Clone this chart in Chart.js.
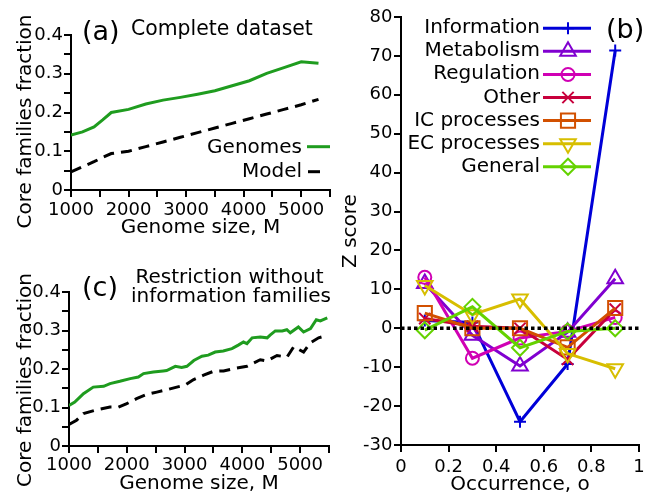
<!DOCTYPE html>
<html>
<head>
<meta charset="utf-8">
<script src="https://cdn.jsdelivr.net/npm/chart.js@4/dist/chart.umd.min.js"></script>
<style>
  html, body { margin: 0; padding: 0; background: #fff; width: 651px; height: 496px; overflow: hidden; }
  canvas { position: absolute; }
  #panelA { left: 0; top: 0; }
  #panelC { left: 0; top: 245px; }
  #panelB { left: 335px; top: 0; }
</style>
</head>
<body>
<canvas id="panelA" width="335" height="245"></canvas>
<canvas id="panelC" width="335" height="251"></canvas>
<canvas id="panelB" width="316" height="496"></canvas>
<script>
// ---- (a) complete dataset: core families fraction vs genome size ----
const sizesA   = [1000, 1200, 1400, 1550, 1700, 2000, 2300, 2600, 2900, 3200, 3500, 3800, 4100, 4400, 4700, 5000, 5300];
const genomesA = [0.142, 0.150, 0.163, 0.181, 0.200, 0.208, 0.222, 0.232, 0.239, 0.247, 0.256, 0.269, 0.282, 0.301, 0.316, 0.331, 0.327];
const modelA   = [0.047, 0.060, 0.073, 0.084, 0.094, 0.100, 0.112, 0.124, 0.136, 0.148, 0.160, 0.172, 0.184, 0.196, 0.208, 0.220, 0.234];

// ---- (c) restriction without information families ----
const sizesC   = [1000, 1100, 1250, 1420, 1600, 1710, 1880, 2060, 2200, 2290, 2460, 2630, 2690, 2840, 2950, 3040, 3160, 3300, 3410, 3530,
                  3670, 3820, 3930, 4020, 4080, 4170, 4310, 4430, 4480, 4570, 4690, 4770, 4830, 4970, 5060, 5180, 5280, 5350, 5470];
const genomesC = [0.105, 0.114, 0.136, 0.153, 0.155, 0.162, 0.168, 0.175, 0.179, 0.188, 0.192, 0.195, 0.196, 0.207, 0.204, 0.207, 0.222, 0.233, 0.236, 0.244,
                  0.247, 0.253, 0.262, 0.270, 0.266, 0.281, 0.283, 0.281, 0.288, 0.299, 0.299, 0.302, 0.294, 0.309, 0.296, 0.305, 0.328, 0.325, 0.333];
const modelSizesC = [1000, 1130, 1250, 1480, 1710, 1855, 2000, 2170, 2345, 2520, 2690, 2865, 3010, 3150, 3330, 3500, 3675, 3850,
                     4080, 4310, 4425, 4600, 4773, 4890, 5060, 5175, 5320, 5465];
const modelC      = [0.056, 0.067, 0.084, 0.094, 0.101, 0.101, 0.110, 0.123, 0.134, 0.140, 0.146, 0.153, 0.158, 0.172, 0.184, 0.194, 0.195, 0.201,
                     0.207, 0.224, 0.221, 0.235, 0.231, 0.258, 0.244, 0.268, 0.281, 0.287];

// ---- (b) Z score by occurrence class ----
const occurrence   = [0.1, 0.3, 0.5, 0.7, 0.9];
const zInformation = [2, 1.5, -24, -9.2, 71.4];
const zMetabolism  = [11.5, -1.8, -9.7, -1, 12.7];
const zRegulation  = [13.1, -7.7, -2.5, -0.8, 2.8];
const zOther       = [2.5, 0.5, 0, -8, 4.9];
const zIC          = [3.9, 0, 0, -4.9, 5.2];
const zEC          = [11, 3.5, 7.5, -6.5, -10.4];
const zGeneral     = [-0.5, 5.5, -5, -0.8, 0];
const zeroLine     = [0, 1];

const FONT = '"DejaVu Sans", sans-serif';
Chart.defaults.font.family = FONT;
Chart.defaults.color = '#000';

const pts = (xs, ys) => xs.map((x, i) => ({ x, y: ys[i] }));

const GREEN = '#1f9c1f';
const TICK_SIZE = 18;

const tickGrid = { display: true, drawOnChartArea: false, drawTicks: true, tickLength: 7, color: '#000', lineWidth: 2 };
const axisBorder = { display: true, color: '#000', width: 2 };

function sizeAxis(height, labelPad, titleBottom) {
  return {
    type: 'linear', min: 1000, max: 5500,
    ticks: {
      stepSize: 500, autoSkip: false, maxRotation: 0, padding: labelPad, font: { size: TICK_SIZE },
      callback: v => (v % 1000 === 0 && v <= 5000) ? String(v) : ''
    },
    grid: tickGrid, border: axisBorder,
    title: { display: true, text: 'Genome size, M', font: { size: 20, lineHeight: 1 }, padding: { top: 0, bottom: titleBottom } },
    afterFit: s => { s.height = height; }
  };
}
function fractionAxis(width) {
  return {
    type: 'linear', min: 0, max: 0.4,
    ticks: {
      stepSize: 0.05, autoSkip: false, padding: 1, font: { size: TICK_SIZE },
      callback: v => { const t = Math.round(v * 100); return t % 10 === 0 ? String(t / 100) : ''; }
    },
    grid: tickGrid, border: axisBorder,
    afterFit: s => { s.width = width; }
  };
}

function verticalTitle(ctx, text, x, y) {
  ctx.save();
  ctx.translate(x, y);
  ctx.rotate(-Math.PI / 2);
  ctx.textAlign = 'center';
  ctx.textBaseline = 'alphabetic';
  ctx.fillText(text, 0, 0);
  ctx.restore();
}

// key for the genome/model panels: right-aligned text followed by a line sample
function drawSizeKey(chart, rows) {
  const ctx = chart.ctx;
  chart.data.datasets.forEach((ds, i) => {
    const r = rows[i];
    if (!r) return;
    ctx.save();
    ctx.font = '20px ' + FONT;
    ctx.fillStyle = '#000';
    ctx.textAlign = 'right';
    ctx.textBaseline = 'alphabetic';
    ctx.fillText(ds.label, r.tx, r.ty);
    ctx.strokeStyle = ds.borderColor;
    ctx.lineWidth = ds.borderWidth;
    ctx.setLineDash([]);
    ctx.beginPath();
    ctx.moveTo(r.x0, r.ly);
    ctx.lineTo(r.x1, r.ly);
    ctx.stroke();
    ctx.restore();
  });
}

const textA = {
  id: 'textA',
  afterDraw(chart) {
    const ctx = chart.ctx;
    ctx.save();
    ctx.fillStyle = '#000';
    ctx.textAlign = 'left';
    ctx.textBaseline = 'alphabetic';
    ctx.font = '27px ' + FONT;
    ctx.fillText('(a)', 82, 39.5);
    ctx.font = '20.4px ' + FONT;
    ctx.fillText('Complete dataset', 131, 35);
    ctx.font = '20px ' + FONT;
    verticalTitle(ctx, 'Core families fraction', 30.5, 121.5);
    ctx.restore();
    drawSizeKey(chart, [
      { tx: 302, ty: 153.3, x0: 307, x1: 330, ly: 146.7 },
      { tx: 302, ty: 176.7, x0: 308, x1: 320, ly: 171.7 }
    ]);
  }
};

const textC = {
  id: 'textC',
  afterDraw(chart) {
    const ctx = chart.ctx;
    ctx.save();
    ctx.fillStyle = '#000';
    ctx.textBaseline = 'alphabetic';
    ctx.textAlign = 'left';
    ctx.font = '27px ' + FONT;
    ctx.fillText('(c)', 82, 51.3);
    ctx.font = '20px ' + FONT;
    ctx.textAlign = 'center';
    ctx.fillText('Restriction without', 229.5, 38.3);
    ctx.fillText('information families', 231, 56.7);
    verticalTitle(ctx, 'Core families fraction', 30.5, 135);
    ctx.restore();
  }
};

const textB = {
  id: 'textB',
  afterDraw(chart) {
    const ctx = chart.ctx;
    ctx.save();
    ctx.fillStyle = '#000';
    ctx.textBaseline = 'alphabetic';
    ctx.textAlign = 'left';
    ctx.font = '27px ' + FONT;
    ctx.fillText('(b)', 271, 38);
    // category key, one row per class
    chart.data.datasets.forEach(ds => {
      if (ds.keyRow === undefined) return;
      const y = 28.3 + 23.07 * ds.keyRow;
      ctx.save();
      ctx.font = '20px ' + FONT;
      ctx.fillStyle = '#000';
      ctx.textAlign = 'right';
      ctx.fillText(ds.label, 205, y + 5);
      ctx.strokeStyle = ds.borderColor;
      ctx.lineWidth = ds.borderWidth;
      ctx.beginPath();
      ctx.moveTo(208, y);
      ctx.lineTo(256, y);
      ctx.stroke();
      ctx.lineWidth = ds.pointBorderWidth;
      ctx.fillStyle = 'rgba(0,0,0,0)';
      Chart.helpers.drawPoint(ctx, {
        pointStyle: ds.pointStyle, rotation: ds.pointRotation || 0,
        radius: ds.pointRadius, borderWidth: ds.pointBorderWidth
      }, 233, y);
      ctx.restore();
    });
    ctx.restore();
  }
};

const common = {
  responsive: false,
  animation: false,
  events: [],
  plugins: { legend: { display: false }, tooltip: { enabled: false } }
};

new Chart(document.getElementById('panelA'), {
  type: 'line',
  data: {
    datasets: [
      { label: 'Genomes', data: pts(sizesA, genomesA), borderColor: GREEN, borderWidth: 3, pointRadius: 0, tension: 0 },
      { label: 'Model', data: pts(sizesA, modelA), borderColor: '#000', borderWidth: 3, borderDash: [11, 7], pointRadius: 0, tension: 0 }
    ]
  },
  options: Object.assign({}, common, {
    layout: { padding: { left: 0, top: 35, right: 5, bottom: 0 } },
    scales: { x: sizeAxis(55, 3, 7), y: fractionAxis(71) }
  }),
  plugins: [textA]
});

new Chart(document.getElementById('panelC'), {
  type: 'line',
  data: {
    datasets: [
      { label: 'Genomes', data: pts(sizesC, genomesC), borderColor: GREEN, borderWidth: 3, pointRadius: 0, tension: 0 },
      { label: 'Model', data: pts(modelSizesC, modelC), borderColor: '#000', borderWidth: 3, borderDash: [11, 7], pointRadius: 0, tension: 0 }
    ]
  },
  options: Object.assign({}, common, {
    layout: { padding: { left: 0, top: 47, right: 6, bottom: 0 } },
    scales: { x: sizeAxis(50, 2, 2), y: fractionAxis(69) }
  }),
  plugins: [textC]
});

function category(label, ys, color, style, radius, keyRow, order, rotation) {
  return {
    label, data: pts(occurrence, ys), borderColor: color, borderWidth: 3, tension: 0,
    pointStyle: style, pointRadius: radius, pointBorderWidth: 2, pointRotation: rotation || 0,
    pointBackgroundColor: 'rgba(0,0,0,0)', pointBorderColor: color, keyRow, order
  };
}

new Chart(document.getElementById('panelB'), {
  type: 'line',
  data: {
    datasets: [
      category('Information', zInformation, '#0000d8', 'cross', 6, 0, 7),
      category('Metabolism', zMetabolism, '#8000d0', 'triangle', 9, 1, 6),
      category('Regulation', zRegulation, '#d000b4', 'circle', 6.5, 2, 5),
      category('Other', zOther, '#c8003c', 'crossRot', 8, 3, 4),
      category('IC processes', zIC, '#d25000', 'rect', 10, 4, 3),
      category('EC processes', zEC, '#d7be00', 'triangle', 9, 5, 2, 180),
      category('General', zGeneral, '#64d200', 'rectRot', 8, 6, 1),
      { label: 'zero', data: pts(zeroLine, [0, 0]), borderColor: '#000', borderWidth: 3.5, borderDash: [3.5, 3],
        pointRadius: 0, order: 0 }
    ]
  },
  options: Object.assign({}, common, {
    layout: { padding: { left: 0, top: 17, right: 6, bottom: 0 } },
    scales: {
      x: {
        type: 'linear', min: 0, max: 1,
        ticks: { stepSize: 0.2, autoSkip: false, maxRotation: 0, padding: 5, font: { size: TICK_SIZE },
                 callback: v => String(Math.round(v * 10) / 10) },
        grid: tickGrid, border: axisBorder,
        title: { display: true, text: 'Occurrence, o', font: { size: 20, lineHeight: 1 }, padding: { top: 0, bottom: 1 } },
        afterFit: s => { s.height = 51; }
      },
      y: {
        type: 'linear', min: -30, max: 80,
        ticks: { stepSize: 10, autoSkip: false, padding: 1.5, font: { size: TICK_SIZE }, callback: v => String(v) },
        grid: tickGrid, border: axisBorder,
        title: { display: true, text: 'Z score', font: { size: 20, lineHeight: 1 }, padding: { top: 6, bottom: 0 } },
        afterFit: s => { s.width = 66; }
      }
    }
  }),
  plugins: [textB]
});
</script>
</body>
</html>
